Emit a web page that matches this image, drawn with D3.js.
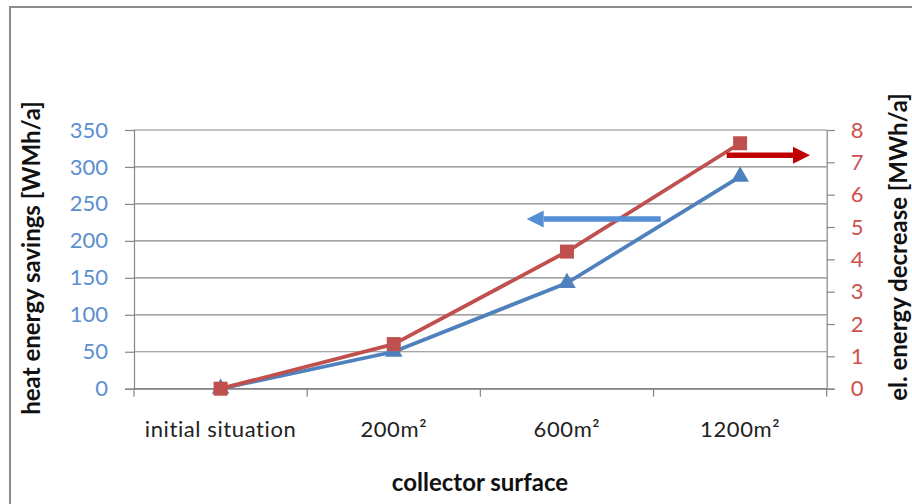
<!DOCTYPE html>
<html>
<head>
<meta charset="utf-8">
<script src="https://cdn.jsdelivr.net/npm/d3@7"></script>
<style>
  body { margin: 0; background: #fff; }
  svg { display: block; }
  svg text { font-family: Lato, "Open Sans", sans-serif; }
</style>
</head>
<body>
<div id="chart"></div>
<script>
// chart data
var categories = ["initial situation", "200m\u00b2", "600m\u00b2", "1200m\u00b2"];
var heatSavings = [0, 50, 143, 287];        // left axis, WMh/a
var elDecrease = [0, 1.38, 4.24, 7.59];     // right axis, MWh/a
var leftTicks = [0, 50, 100, 150, 200, 250, 300, 350];
var rightTicks = [0, 1, 2, 3, 4, 5, 6, 7, 8];

var width = 912, height = 504;
var margin = { top: 130, right: 85, bottom: 115, left: 134 };
var plotW = 826.7 - margin.left, plotH = 388.7 - margin.top;

var blue = "#4F81BD", red = "#C0504D", grid = "#868686";

var svg = d3.select("#chart").append("svg")
    .attr("width", width)
    .attr("height", height);

// outer frame (runs past the right and bottom edge)
svg.append("rect")
    .attr("x", 10).attr("y", 7)
    .attr("width", 940).attr("height", 540)
    .attr("fill", "none")
    .attr("stroke", "#8c8c8c")
    .attr("stroke-width", 2);

var g = svg.append("g")
    .attr("transform", "translate(" + margin.left + "," + margin.top + ")");

var x = d3.scaleBand().domain(categories).range([0, plotW]);
var yL = d3.scaleLinear().domain([0, 350]).range([plotH, 0]);
var yR = d3.scaleLinear().domain([0, 8]).range([plotH, 0]);

// horizontal gridlines
g.selectAll(".grid").data(leftTicks).enter().append("line")
    .attr("x1", 0).attr("x2", plotW)
    .attr("y1", function(d) { return yL(d); })
    .attr("y2", function(d) { return yL(d); })
    .attr("stroke", grid).attr("stroke-width", 1.2);

// left axis
var axL = g.append("g")
    .call(d3.axisLeft(yL).tickValues(leftTicks).tickSize(9).tickPadding(17));
axL.selectAll("text").attr("fill", "#5B8FCF").style("font-size", "22px");

// right axis
var axR = g.append("g")
    .attr("transform", "translate(" + plotW + ",0)")
    .call(d3.axisRight(yR).tickValues(rightTicks).tickSize(8).tickPadding(16));
axR.selectAll("text").attr("fill", "#D0504D").style("font-size", "22px");

// bottom axis: ticks at band boundaries
var axB = g.append("g")
    .attr("transform", "translate(0," + plotH + ")")
    .call(d3.axisBottom(x).tickSize(0).tickPadding(33));
axB.selectAll("text").attr("fill", "#222").style("font-size", "22px")
    .style("letter-spacing", "0.6px");
axB.selectAll(".bnd").data(d3.range(categories.length + 1)).enter().append("line")
    .attr("x1", function(i) { return i * x.bandwidth(); })
    .attr("x2", function(i) { return i * x.bandwidth(); })
    .attr("y1", 0).attr("y2", 8)
    .attr("stroke", grid).attr("stroke-width", 1.2);

[axL, axR, axB].forEach(function(a) {
    a.attr("font-family", null);
    a.select(".domain").attr("stroke", grid).attr("stroke-width", 1.2);
    a.selectAll(".tick line").attr("stroke", grid).attr("stroke-width", 1.2);
});

function cx(i) { return x(categories[i]) + x.bandwidth() / 2; }

// heat savings line (blue, triangles)
g.append("path")
    .datum(heatSavings)
    .attr("fill", "none").attr("stroke", blue).attr("stroke-width", 3.8)
    .attr("stroke-linejoin", "round")
    .attr("d", d3.line().x(function(d, i) { return cx(i); }).y(function(d) { return yL(d); }));
g.selectAll(".tri").data(heatSavings).enter().append("path")
    .attr("transform", function(d, i) { return "translate(" + cx(i) + "," + yL(d) + ")"; })
    .attr("d", d3.symbol().type(d3.symbolTriangle).size(135))
    .attr("fill", blue);

// el. decrease line (red, squares)
g.append("path")
    .datum(elDecrease)
    .attr("fill", "none").attr("stroke", red).attr("stroke-width", 3.8)
    .attr("stroke-linejoin", "round")
    .attr("d", d3.line().x(function(d, i) { return cx(i); }).y(function(d) { return yR(d); }));
g.selectAll(".sq").data(elDecrease).enter().append("rect")
    .attr("x", function(d, i) { return cx(i) - 7; })
    .attr("y", function(d) { return yR(d) - 7; })
    .attr("width", 14).attr("height", 14)
    .attr("fill", red);

// axis-pointing arrows
function arrow(x0, x1, y, color) {
    var dir = x1 > x0 ? 1 : -1;
    var hb = x1 - dir * 17;
    g.append("line")
        .attr("x1", x0).attr("x2", hb).attr("y1", y).attr("y2", y)
        .attr("stroke", color).attr("stroke-width", 5.5);
    g.append("path")
        .attr("d", "M" + x1 + "," + y + "L" + hb + "," + (y - 8.5) + "L" + hb + "," + (y + 8.5) + "Z")
        .attr("fill", color);
}
arrow(726.7 - margin.left, 810 - margin.left, yR(7.22), "#C00000");
arrow(660.7 - margin.left, 526.7 - margin.left, yL(229.5), "#558ED5");

// axis titles
svg.append("text")
    .attr("transform", "translate(40,258) rotate(-90)")
    .attr("text-anchor", "middle")
    .style("font-size", "24px").style("font-weight", "bold").attr("fill", "#111")
    .text("heat energy savings [WMh/a]");
svg.append("text")
    .attr("transform", "translate(907,247) rotate(-90)")
    .attr("text-anchor", "middle")
    .style("font-size", "24px").style("font-weight", "bold").attr("fill", "#111")
    .text("el. energy decrease [MWh/a]");
svg.append("text")
    .attr("x", 480).attr("y", 491)
    .attr("text-anchor", "middle")
    .style("font-size", "24px").style("font-weight", "bold").attr("fill", "#111")
    .text("collector surface");
</script>
</body>
</html>
